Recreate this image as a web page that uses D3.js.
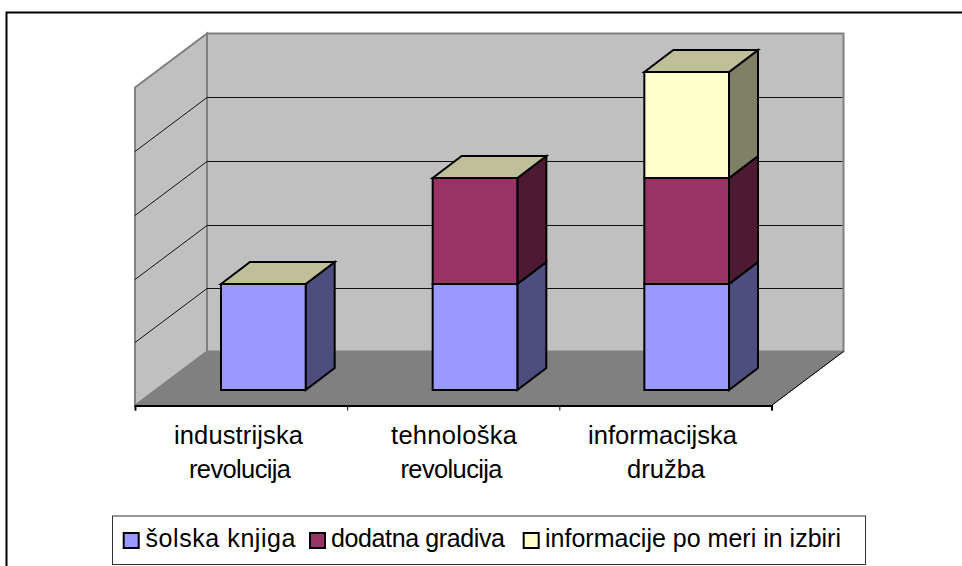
<!DOCTYPE html>
<html>
<head>
<meta charset="utf-8">
<script src="https://cdn.jsdelivr.net/npm/d3@7"></script>
<style>
  html, body { margin: 0; padding: 0; background: #fff; overflow: hidden; }
  text { font-family: "Liberation Sans", Arial, sans-serif; fill: #000; }
</style>
</head>
<body>
<div id="chart"></div>
<script>
// Data
const categories = ["industrijska revolucija", "tehnološka revolucija", "informacijska družba"];
const categoryLines = [["industrijska", "revolucija"], ["tehnološka", "revolucija"], ["informacijska", "družba"]];
const seriesNames = ["šolska knjiga", "dodatna gradiva", "informacije po meri in izbiri"];
const solskaKnjiga = [1, 1, 1];
const dodatnaGradiva = [0, 1, 1];
const informacije = [0, 0, 1];
const valueTicks = [0, 0.6, 1.2, 1.8, 2.4, 3];

// Colours: front, top, side
const colors = [
    { front: "#9999ff", side: "#4d4d80", top: "#bfbf99" },
    { front: "#993366", side: "#4d1933", top: "#bfbf99" },
    { front: "#ffffcc", side: "#808066", top: "#bfbf99" }
];

const width = 962, height = 566;
const svg = d3.select("#chart").append("svg")
    .attr("width", width)
    .attr("height", height);

// Outer chart border (top and left only are in frame)
svg.append("path")
    .attr("d", "M6.5,566V12.5H962")
    .attr("fill", "none")
    .attr("stroke", "#000")
    .attr("stroke-width", 2);

// Front plane of the 3D box
const plot = { left: 135, right: 771.5, bottom: 405.5, top: 87.5 };
const depth = { dx: 72, dy: -54 };      // wall offset
const barDepth = { dx: 29, dy: -22 };   // depth of one bar
const barShift = { dx: 22.5, dy: -15.5 }; // gap from front edge of floor to bar

const x = d3.scaleBand()
    .domain(categories)
    .range([plot.left, 770])
    .paddingInner(0.6)
    .paddingOuter(0.3);

const xEdge = d3.scaleLinear().domain([0, 3]).range([plot.left, plot.right]);

const y = d3.scaleLinear().domain([0, 3]).range([plot.bottom, plot.top]);

// Side wall, back wall, floor
const poly = pts => "M" + pts.map(p => p.join(",")).join("L") + "Z";

svg.append("path")
    .attr("d", poly([
        [plot.left, plot.bottom], [plot.left, plot.top],
        [plot.left + depth.dx, plot.top + depth.dy], [plot.left + depth.dx, plot.bottom + depth.dy]
    ]))
    .attr("fill", "#c0c0c0")
    .attr("stroke", "#808080")
    .attr("stroke-width", 2);

svg.append("path")
    .attr("d", poly([
        [plot.left + depth.dx, plot.bottom + depth.dy], [plot.left + depth.dx, plot.top + depth.dy],
        [plot.right + depth.dx, plot.top + depth.dy], [plot.right + depth.dx, plot.bottom + depth.dy]
    ]))
    .attr("fill", "#c0c0c0")
    .attr("stroke", "#808080")
    .attr("stroke-width", 2);

// Grid lines on side and back wall, snapped to whole pixels on the back wall
const snap = v => Math.round(v + 0.3) + 0.5;
svg.append("g").selectAll("path")
    .data(valueTicks.slice(1, -1))
    .enter().append("path")
    .attr("d", d => {
        const back = snap(y(d) + depth.dy);
        return `M${plot.left},${back - depth.dy}L${plot.left + depth.dx},${back}L${plot.right + depth.dx - 1},${back}`;
    })
    .attr("fill", "none")
    .attr("stroke", "#111")
    .attr("stroke-width", 1);

svg.append("path")
    .attr("d", poly([
        [plot.left, plot.bottom], [plot.left + depth.dx, plot.bottom + depth.dy],
        [plot.right + depth.dx, plot.bottom + depth.dy], [plot.right, plot.bottom]
    ]))
    .attr("fill", "#808080")
    .attr("stroke", "#808080")
    .attr("stroke-width", 1);

// Floor right edge in black
svg.append("line")
    .attr("x1", plot.right).attr("y1", plot.bottom)
    .attr("x2", plot.right + depth.dx).attr("y2", plot.bottom + depth.dy)
    .attr("stroke", "#000");

// Category axis with ticks on the band edges
svg.append("g")
    .attr("transform", `translate(0,${plot.bottom})`)
    .call(d3.axisBottom(xEdge).tickValues([0, 1, 2, 3]).tickSize(5).tickFormat(""))
    .call(g => g.selectAll("path, line").attr("stroke", "#000"))
    .call(g => g.select(".domain").attr("stroke-width", 2));

// Stacked bars
const stack = [solskaKnjiga, dodatnaGradiva, informacije];
const barsG = svg.append("g");
categories.forEach((cat, i) => {
    let base = 0;
    const x0 = x(cat) + barShift.dx;
    const x1 = x0 + x.bandwidth();
    const items = [];
    stack.forEach((vals, s) => {
        if (vals[i] > 0) {
            items.push({ s, y0: y(base) + barShift.dy, y1: y(base + vals[i]) + barShift.dy });
            base += vals[i];
        }
    });
    items.forEach((d, k) => {
        const g = barsG.append("g")
            .attr("stroke", "#000")
            .attr("stroke-width", 2)
            .attr("stroke-linejoin", "miter");
        g.append("path").attr("fill", colors[d.s].side).attr("d", poly([
            [x1, d.y0], [x1, d.y1], [x1 + barDepth.dx, d.y1 + barDepth.dy], [x1 + barDepth.dx, d.y0 + barDepth.dy]
        ]));
        if (k === items.length - 1) {
            g.append("path").attr("fill", colors[d.s].top).attr("d", poly([
                [x0, d.y1], [x0 + barDepth.dx, d.y1 + barDepth.dy], [x1 + barDepth.dx, d.y1 + barDepth.dy], [x1, d.y1]
            ]));
        }
        g.append("rect")
            .attr("x", x0).attr("y", d.y1)
            .attr("width", x.bandwidth()).attr("height", d.y0 - d.y1)
            .attr("fill", colors[d.s].front);
    });
});

// Category labels
const labelCentre = [[238.5, 240], [454, 451.5], [662.5, 666]];
const labelWidth = [[129, 102], [126, 102], [149, 78]];
const labels = svg.append("g")
    .attr("font-size", 25.5)
    .attr("text-anchor", "middle");
categories.forEach((cat, i) => {
    categoryLines[i].forEach((line, j) => {
        labels.append("text")
            .attr("x", labelCentre[i][j])
            .attr("y", 444 + j * 34)
            .attr("textLength", labelWidth[i][j])
            .attr("lengthAdjust", "spacing")
            .text(line);
    });
});

// Legend
const legend = svg.append("g");
legend.append("rect")
    .attr("x", 112.5).attr("y", 516)
    .attr("width", 753).attr("height", 48.5)
    .attr("fill", "#fff")
    .attr("stroke", "#333");
const swatchX = [123.7, 310, 523.7];
const legendTextX = [145.5, 331, 545];
const legendTextWidth = [150, 174, 296];
seriesNames.forEach((name, i) => {
    legend.append("rect")
        .attr("x", swatchX[i]).attr("y", 533)
        .attr("width", 15).attr("height", 15)
        .attr("fill", colors[i].front)
        .attr("stroke", "#000")
        .attr("stroke-width", 2);
    legend.append("text")
        .attr("x", legendTextX[i])
        .attr("y", 547)
        .attr("font-size", 25)
        .attr("textLength", legendTextWidth[i])
        .attr("lengthAdjust", "spacing")
        .text(name);
});
</script>
</body>
</html>
